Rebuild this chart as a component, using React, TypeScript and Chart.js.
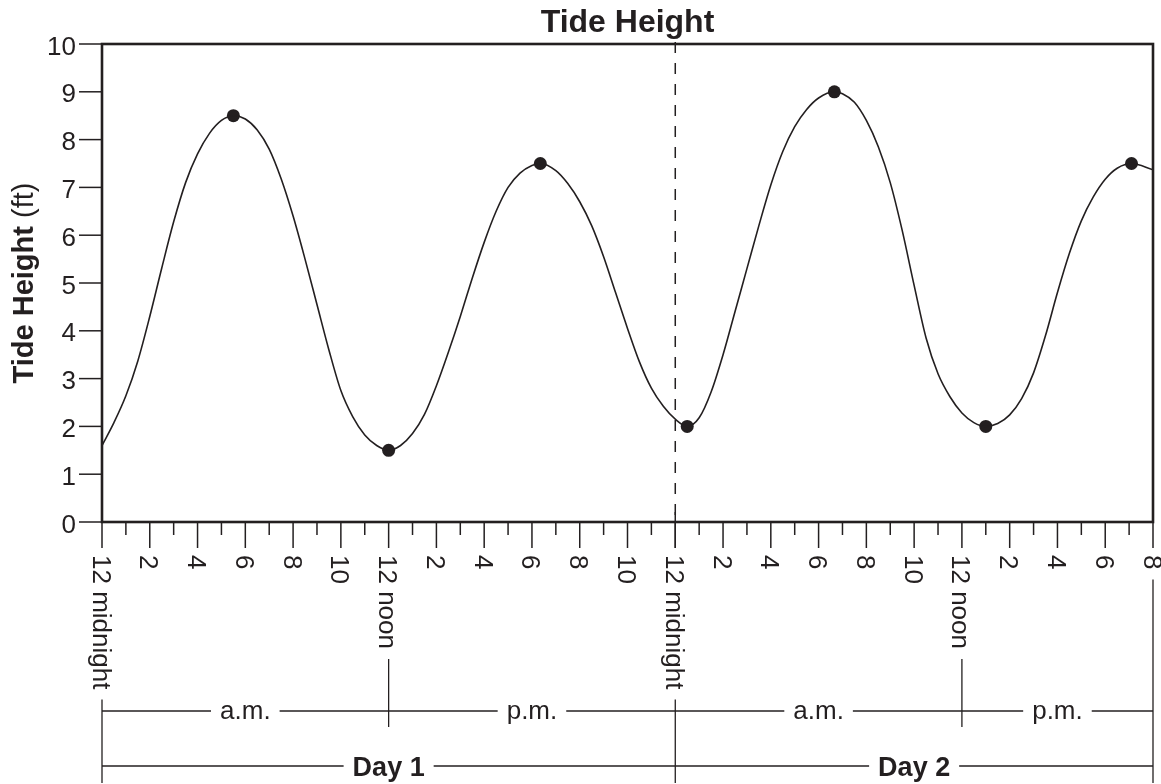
import { useEffect, useRef } from "react";
import { Chart, registerables } from "chart.js";

Chart.register(...registerables);

// ---- Data ----
const curveHours = [
  0, 0.5, 1, 1.5, 2, 2.5, 3, 3.5, 4, 4.5, 5, 5.5,
  6, 6.5, 7, 7.5, 8, 8.5, 9, 9.5, 10, 10.5, 11, 11.5, 12,
  12.5, 13, 13.5, 14, 14.5, 15, 15.5, 16, 16.5, 17, 17.5, 18, 18.35,
  19, 19.5, 20, 20.5, 21, 21.5, 22, 22.5, 23, 23.5, 24, 24.5,
  25, 25.5, 26, 26.5, 27, 27.5, 28, 28.5, 29, 29.5, 30, 30.66,
  31, 31.5, 32, 32.5, 33, 33.5, 34, 34.5, 35, 35.5, 36, 36.5, 37,
  37.5, 38, 38.5, 39, 39.5, 40, 40.5, 41, 41.5, 42, 42.5, 43.1, 44,
];
const curveHeights = [
  1.6, 2.08, 2.64, 3.37, 4.3, 5.31, 6.28, 7.1, 7.7, 8.13, 8.4, 8.5,
  8.43, 8.2, 7.8, 7.18, 6.4, 5.5, 4.55, 3.6, 2.75, 2.2, 1.82, 1.6, 1.5,
  1.6, 1.85, 2.25, 2.85, 3.55, 4.3, 5.1, 5.85, 6.5, 7.0, 7.3, 7.46, 7.5,
  7.35, 7.08, 6.7, 6.2, 5.55, 4.8, 4.05, 3.35, 2.8, 2.42, 2.15, 2.0,
  2.18, 2.72, 3.5, 4.4, 5.3, 6.2, 7.05, 7.75, 8.27, 8.63, 8.87, 9.0,
  8.96, 8.78, 8.4, 7.85, 7.1, 6.1, 4.95, 3.85, 3.1, 2.62, 2.28, 2.08, 2.0,
  2.06, 2.24, 2.58, 3.12, 3.9, 4.8, 5.62, 6.3, 6.8, 7.17, 7.4, 7.5, 7.37,
];

const extremaHours = [5.5, 12, 18.35, 24.5, 30.66, 37, 43.1];
const extremaHeights = [8.5, 1.5, 7.5, 2, 9, 2, 7.5];

const yTickValues = [0, 1, 2, 3, 4, 5, 6, 7, 8, 9, 10];
const majorTickHours = [0, 2, 4, 6, 8, 10, 12, 14, 16, 18, 20, 22, 24, 26, 28, 30, 32, 34, 36, 38, 40, 42, 44];
const xTickLabels = ["12 midnight", "2", "4", "6", "8", "10", "12 noon", "2", "4", "6", "8", "10", "12 midnight", "2", "4", "6", "8", "10", "12 noon", "2", "4", "6", "8"];
const minorTickHours = [1, 3, 5, 7, 9, 11, 13, 15, 17, 19, 21, 23, 25, 27, 29, 31, 33, 35, 37, 39, 41, 43];

const periodEdges = [0, 12, 24, 36, 44];
const periodLabels = ["a.m.", "p.m.", "a.m.", "p.m."];
const dayEdges = [0, 24, 44];
const dayLabels = ["Day 1", "Day 2"];
const dayBreakHour = 24;

const chartTitle = "Tide Height";
const yTitleBold = "Tide Height ";
const yTitleUnit = "(ft)";

const INK = "#231f20";
const FONT = '"Liberation Sans", Arial, Helvetica, sans-serif';

const tidePlugin = {
  id: "tideAxes",
  beforeDatasetsDraw(chart: any) {
    const { ctx, chartArea: a, scales } = chart;
    const x = scales.x.getPixelForValue(dayBreakHour);
    ctx.save();
    ctx.strokeStyle = INK;
    ctx.lineWidth = 1.5;
    ctx.setLineDash([11, 10]);
    ctx.beginPath();
    ctx.moveTo(x, a.top - 2);
    ctx.lineTo(x, a.bottom);
    ctx.stroke();
    ctx.restore();
  },
  afterDraw(chart: any) {
    const { ctx, chartArea: a, scales } = chart;
    const xs = scales.x;
    const ys = scales.y;
    const line = (x1: number, y1: number, x2: number, y2: number) => {
      ctx.beginPath();
      ctx.moveTo(x1, y1);
      ctx.lineTo(x2, y2);
      ctx.stroke();
    };
    ctx.save();
    ctx.strokeStyle = INK;
    ctx.fillStyle = INK;

    // plot box
    ctx.lineWidth = 2.6;
    ctx.strokeRect(a.left, a.top, a.right - a.left, a.bottom - a.top);

    // y ticks + labels
    ctx.lineWidth = 1.5;
    ctx.font = `26px ${FONT}`;
    ctx.textAlign = "right";
    ctx.textBaseline = "alphabetic";
    yTickValues.forEach((v) => {
      const y = ys.getPixelForValue(v);
      line(a.left - 23, y, a.left, y);
      ctx.fillText(String(v), a.left - 26, y + 10.5);
    });

    // x ticks
    minorTickHours.forEach((h) => {
      const x = xs.getPixelForValue(h);
      line(x, a.bottom, x, a.bottom + 13);
    });
    majorTickHours.forEach((h) => {
      const x = xs.getPixelForValue(h);
      line(x, a.bottom, x, a.bottom + 26);
    });
    const xb = xs.getPixelForValue(dayBreakHour);
    line(xb, a.bottom - 10, xb, a.bottom + 26);

    // x labels (rotated clockwise)
    const labelTop = a.bottom + 33;
    const labelEnd: Record<number, number> = {};
    ctx.font = `26px ${FONT}`;
    majorTickHours.forEach((h, i) => {
      const x = xs.getPixelForValue(h);
      const txt = xTickLabels[i];
      ctx.save();
      ctx.translate(x, labelTop);
      ctx.rotate(Math.PI / 2);
      ctx.textAlign = "left";
      ctx.textBaseline = "alphabetic";
      ctx.fillText(txt, 0, 9.5);
      ctx.restore();
      labelEnd[h] = labelTop + ctx.measureText(txt).width;
    });

    // connector lines
    const periodY = a.bottom + 189;
    const dayY = a.bottom + 244;
    ctx.lineWidth = 1.3;
    const edges = Array.from(new Set([...periodEdges, ...dayEdges]));
    edges.forEach((h) => {
      const x = xs.getPixelForValue(h);
      const start = (labelEnd[h] ?? a.bottom + 40) + 10;
      const end = dayEdges.includes(h) ? chart.height - 1 : periodY + 16;
      line(x, start, x, end);
    });

    // period row
    ctx.font = `26px ${FONT}`;
    ctx.textAlign = "center";
    periodLabels.forEach((lab, i) => {
      const x1 = xs.getPixelForValue(periodEdges[i]);
      const x2 = xs.getPixelForValue(periodEdges[i + 1]);
      const cx = (x1 + x2) / 2;
      const w = ctx.measureText(lab).width;
      ctx.fillText(lab, cx, periodY + 8);
      line(x1, periodY, cx - w / 2 - 9, periodY);
      line(cx + w / 2 + 9, periodY, x2, periodY);
    });

    // day row
    ctx.font = `bold 27px ${FONT}`;
    dayLabels.forEach((lab, i) => {
      const x1 = xs.getPixelForValue(dayEdges[i]);
      const x2 = xs.getPixelForValue(dayEdges[i + 1]);
      const cx = (x1 + x2) / 2;
      const w = ctx.measureText(lab).width;
      ctx.fillText(lab, cx, dayY + 10);
      line(x1, dayY, cx - w / 2 - 9, dayY);
      line(cx + w / 2 + 9, dayY, x2, dayY);
    });

    // title
    ctx.font = `bold 32px ${FONT}`;
    ctx.textAlign = "center";
    ctx.fillText(chartTitle, (a.left + a.right) / 2, 32);

    // y-axis title (bold + regular)
    ctx.save();
    ctx.translate(33, (a.top + a.bottom) / 2);
    ctx.rotate(-Math.PI / 2);
    ctx.textAlign = "left";
    ctx.font = `bold 29px ${FONT}`;
    const w1 = ctx.measureText(yTitleBold).width;
    ctx.font = `29px ${FONT}`;
    const w2 = ctx.measureText(yTitleUnit).width;
    const start = -(w1 + w2) / 2;
    ctx.font = `bold 29px ${FONT}`;
    ctx.fillText(yTitleBold, start, 0);
    ctx.font = `29px ${FONT}`;
    ctx.fillText(yTitleUnit, start + w1, 0);
    ctx.restore();

    ctx.restore();
  },
};

export default function App() {
  const ref = useRef<HTMLCanvasElement>(null);
  useEffect(() => {
    document.body.style.margin = "0";
    document.body.style.overflow = "hidden";
    const chart = new Chart(ref.current as HTMLCanvasElement, {
      type: "scatter",
      data: {
        datasets: [
          {
            data: curveHours.map((h, i) => ({ x: h, y: curveHeights[i] })),
            showLine: true,
            borderColor: INK,
            borderWidth: 1.6,
            pointRadius: 0,
            cubicInterpolationMode: "monotone",
            fill: false,
          } as any,
          {
            data: extremaHours.map((h, i) => ({ x: h, y: extremaHeights[i] })),
            showLine: false,
            pointRadius: 6.5,
            pointBackgroundColor: INK,
            pointBorderWidth: 0,
            backgroundColor: INK,
            borderColor: INK,
          } as any,
        ],
      },
      options: {
        animation: false,
        responsive: true,
        maintainAspectRatio: false,
        layout: { padding: { left: 102, right: 8, top: 44, bottom: 262 } },
        scales: {
          x: { type: "linear", min: 0, max: 44, display: false },
          y: { type: "linear", min: 0, max: 10, display: false },
        },
        plugins: {
          legend: { display: false },
          tooltip: { enabled: false },
          title: { display: false },
        },
        events: [],
      },
      plugins: [tidePlugin],
    });
    return () => chart.destroy();
  }, []);
  return (
    <div style={{ position: "relative", width: 1161, height: 784 }}>
      <canvas ref={ref} />
    </div>
  );
}
